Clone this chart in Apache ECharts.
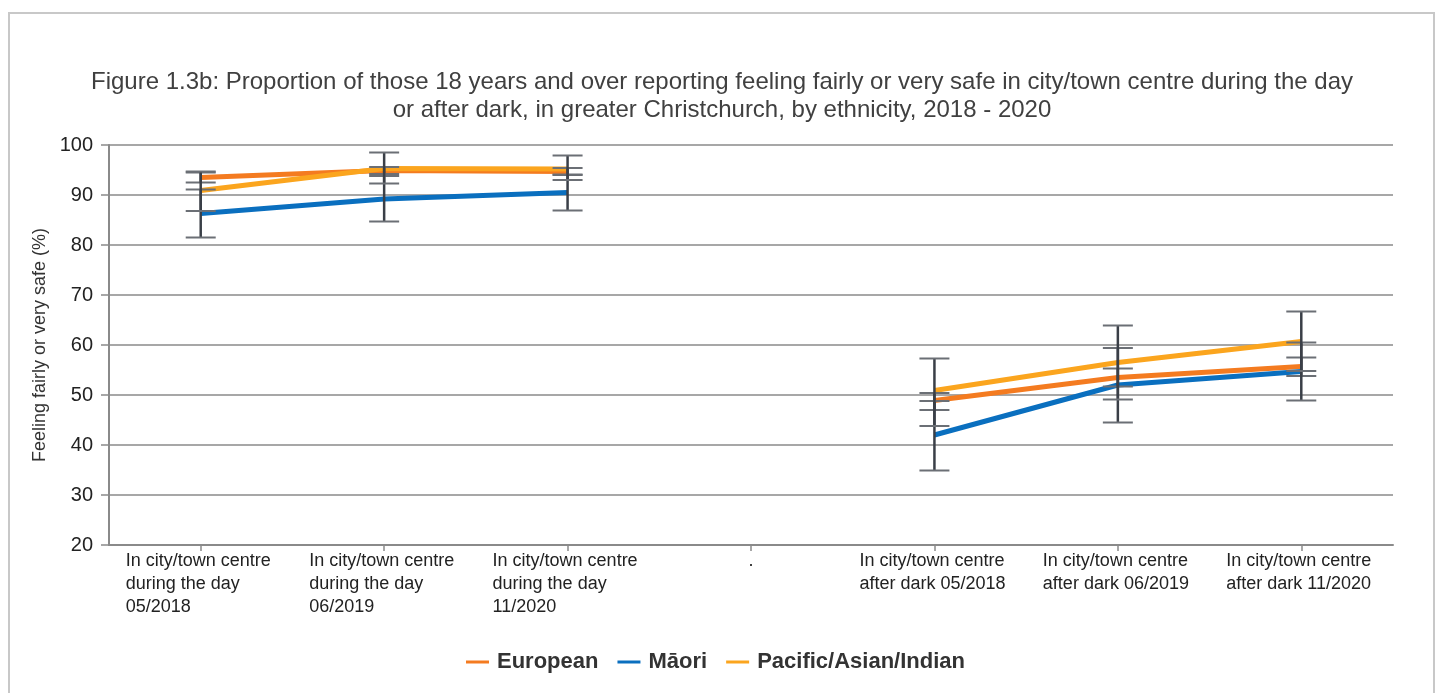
<!DOCTYPE html>
<html>
<head>
<meta charset="utf-8">
<script src="https://cdn.jsdelivr.net/npm/echarts@6/dist/echarts.min.js"></script>
<style>
html,body{margin:0;padding:0;background:#fff;}
#frame{position:absolute;left:8px;top:12px;width:1427px;height:720px;border:2px solid #c8c8c8;box-sizing:border-box;}
#chart{position:absolute;left:0;top:0;width:1444px;height:693px;}
</style>
</head>
<body>
<div id="frame"></div>
<div id="chart"></div>
<script>
const categories = [
  'In city/town centre\nduring the day\n05/2018',
  'In city/town centre\nduring the day\n06/2019',
  'In city/town centre\nduring the day\n11/2020',
  '.',
  'In city/town centre\nafter dark 05/2018',
  'In city/town centre\nafter dark 06/2019',
  'In city/town centre\nafter dark 11/2020'
];
const seriesNames = ['European', 'Māori', 'Pacific/Asian/Indian'];

const european     = [93.5, 94.9, 94.7, null, 48.9, 53.5, 55.7];
const europeanLow  = [92.5, 94.2, 94.0, null, 47.0, 51.7, 53.8];
const europeanHigh = [94.5, 95.6, 95.4, null, 50.4, 55.3, 57.5];

const maori     = [86.3, 89.2, 90.5, null, 42.0, 52.0, 54.7];
const maoriLow  = [81.5, 84.7, 86.9, null, 34.9, 44.5, 48.9];
const maoriHigh = [91.1, 93.8, 94.1, null, 48.8, 59.4, 60.5];

const pacific     = [90.9, 95.3, 95.2, null, 50.9, 56.5, 60.7];
const pacificLow  = [86.8, 92.3, 93.0, null, 43.8, 49.1, 54.8];
const pacificHigh = [94.7, 98.5, 97.9, null, 57.3, 63.9, 66.7];

const yTicks = [20, 30, 40, 50, 60, 70, 80, 90, 100];

const colors = ['#F47B20', '#0A6FBF', '#FBA51E'];
const FONT = "'Liberation Sans', Arial, sans-serif";

function errData(lows, highs) {
  const out = [];
  lows.forEach((lo, i) => { if (lo != null && highs[i] != null) out.push([i, lo, highs[i]]); });
  return out;
}
const errAll = [].concat(
  errData(europeanLow, europeanHigh),
  errData(maoriLow, maoriHigh),
  errData(pacificLow, pacificHigh)
);

function renderErr(params, api) {
  const lo = api.coord([api.value(0), api.value(1)]);
  const hi = api.coord([api.value(0), api.value(2)]);
  const w = 15;
  return {
    type: 'group',
    children: [
      {type: 'line', shape: {x1: lo[0], y1: lo[1], x2: lo[0], y2: hi[1]}, style: {stroke: '#3a3f47', lineWidth: 2.5}},
      {type: 'line', shape: {x1: lo[0] - w, y1: lo[1], x2: lo[0] + w, y2: lo[1]}, style: {stroke: '#6b6f75', lineWidth: 2}},
      {type: 'line', shape: {x1: hi[0] - w, y1: hi[1], x2: hi[0] + w, y2: hi[1]}, style: {stroke: '#6b6f75', lineWidth: 2}}
    ]
  };
}

const chart = echarts.init(document.getElementById('chart'));
chart.setOption({
  animation: false,
  textStyle: {fontFamily: FONT},
  title: {
    text: 'Figure 1.3b: Proportion of those 18 years and over reporting feeling fairly or very safe in city/town centre during the day\nor after dark, in greater Christchurch, by ethnicity, 2018 - 2020',
    left: 'center',
    top: 63,
    textStyle: {fontFamily: FONT, fontSize: 24, fontWeight: 'normal', color: '#404040', lineHeight: 28}
  },
  legend: {
    left: 461,
    top: 646,
    icon: 'rect',
    itemWidth: 23,
    itemHeight: 3,
    itemGap: 19,
    data: seriesNames,
    textStyle: {fontFamily: FONT, fontSize: 22, fontWeight: 'bold', color: '#333', padding: [0, 0, 0, 3]}
  },
  grid: {left: 109, right: 51, top: 145, bottom: 148, containLabel: false},
  xAxis: {
    type: 'category',
    data: categories,
    boundaryGap: true,
    axisLine: {lineStyle: {color: '#8a8a8a', width: 2}},
    axisTick: {show: true, alignWithLabel: true, length: 6, lineStyle: {color: '#8a8a8a', width: 1.5}},
    axisLabel: {
      interval: 0,
      margin: 5,
      color: '#222',
      formatter: v => v === '.' ? '{b|.}' : v.split('\n').map(l => '{a|' + l + '}').join('\n'),
      rich: {
        a: {width: 150, align: 'left', fontSize: 18, lineHeight: 23, fontFamily: FONT, color: '#222'},
        b: {align: 'center', fontSize: 18, lineHeight: 23, fontFamily: FONT, color: '#222'}
      }
    }
  },
  yAxis: {
    type: 'value',
    min: yTicks[0],
    max: yTicks[yTicks.length - 1],
    interval: 10,
    name: 'Feeling fairly or very safe (%)',
    nameLocation: 'middle',
    nameGap: 57,
    nameRotate: 90,
    nameTextStyle: {fontFamily: FONT, fontSize: 18, color: '#333'},
    axisLine: {show: true, lineStyle: {color: '#8a8a8a', width: 2}},
    axisTick: {show: true, length: 8, lineStyle: {color: '#8a8a8a', width: 1.5}},
    axisLabel: {margin: 16, fontSize: 20, color: '#222', fontFamily: FONT},
    splitLine: {lineStyle: {color: '#8a8a8a', width: 1.5}}
  },
  series: [
    {name: seriesNames[0], type: 'line', data: european, symbol: 'none', connectNulls: false, lineStyle: {width: 5, color: colors[0]}, itemStyle: {color: colors[0]}, z: 2},
    {name: seriesNames[1], type: 'line', data: maori, symbol: 'none', connectNulls: false, lineStyle: {width: 5, color: colors[1]}, itemStyle: {color: colors[1]}, z: 2},
    {name: seriesNames[2], type: 'line', data: pacific, symbol: 'none', connectNulls: false, lineStyle: {width: 5, color: colors[2]}, itemStyle: {color: colors[2]}, z: 3},
    {name: 'err', type: 'custom', data: errAll, renderItem: renderErr, encode: {x: 0, y: [1, 2]}, z: 10, silent: true}
  ]
});
</script>
</body>
</html>
